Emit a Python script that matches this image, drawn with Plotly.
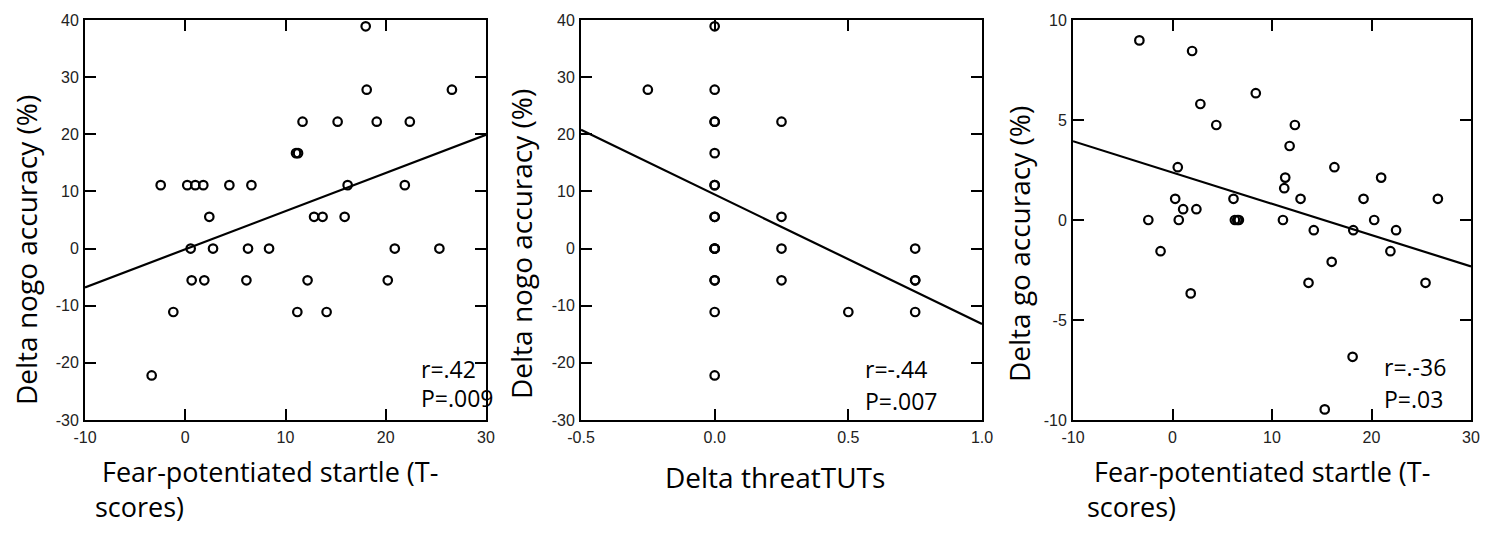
import plotly.graph_objects as go

# ---------------- data ----------------
# Panel 1: fear-potentiated startle vs delta nogo accuracy
fps_x1 = [18.0, 18.1, 26.6, 11.7, 15.2, 19.1, 22.4, 11.05, 11.25,
          -2.45, 0.2, 1.0, 1.8, 4.4, 6.6, 16.2, 21.9,
          2.4, 12.85, 13.7, 15.9,
          0.54, 2.77, 6.26, 8.36, 20.9, 25.35,
          0.64, 1.9, 6.1, 12.2, 20.2,
          -1.19, 11.18, 14.1,
          -3.35]
nogo_y1 = [38.9, 27.8, 27.8, 22.2, 22.2, 22.2, 22.2, 16.7, 16.7,
           11.1, 11.1, 11.1, 11.1, 11.1, 11.1, 11.1, 11.1,
           5.56, 5.56, 5.56, 5.56,
           0, 0, 0, 0, 0, 0,
           -5.56, -5.56, -5.56, -5.56, -5.56,
           -11.1, -11.1, -11.1,
           -22.2]
fit1_x = [-10, 30]
fit1_y = [-6.8, 19.9]

# Panel 2: delta threatTUTs vs delta nogo accuracy
tut_x2 = [0, 0, 0, 0, 0, 0, 0, 0, 0, 0, 0, 0, 0, 0, 0, 0,
          -0.25,
          0.25, 0.25, 0.25, 0.25,
          0.5,
          0.75, 0.75, 0.75, 0.75]
nogo_y2 = [38.9, 27.8, 22.2, 22.2, 16.7, 11.1, 11.1, 5.56, 5.56, 0, 0, 0,
           -5.56, -5.56, -11.1, -22.2,
           27.8,
           22.2, 5.56, 0, -5.56,
           -11.1,
           0, -5.56, -5.56, -11.1]
fit2_x = [-0.5, 1.0]
fit2_y = [20.8, -13.2]

# Panel 3: fear-potentiated startle vs delta go accuracy
fps_x3 = [-3.33, 1.97, 8.37, 2.8, 4.4, 12.3, 11.77, 0.53, 16.27, 11.33,
          20.97, 11.23, 0.27, 6.13, 12.87, 19.2, 26.67, 1.07, 2.4, -2.43,
          0.63, 6.27, 6.5, 6.67, 11.1, 20.27, 14.2, 18.17, 22.47, -1.2,
          21.9, 16.0, 13.67, 25.43, 1.83, 18.1, 15.3]
go_y3 = [8.98, 8.45, 6.34, 5.8, 4.75, 4.75, 3.7, 2.64, 2.64, 2.12,
         2.12, 1.59, 1.06, 1.06, 1.06, 1.06, 1.06, 0.54, 0.54, 0,
         0, 0, 0, 0, 0, 0, -0.51, -0.51, -0.51, -1.56,
         -1.56, -2.09, -3.14, -3.14, -3.67, -6.84, -9.47]
fit3_x = [-10, 30]
fit3_y = [3.94, -2.32]

# tick values and labels
fps_ticks = [-10, 0, 10, 20, 30]
fps_labels = ["-10", "0", "10", "20", "30"]
tut_ticks = [-0.5, 0.0, 0.5, 1.0]
tut_labels = ["-0.5", "0.0", "0.5", "1.0"]
nogo_ticks = [-30, -20, -10, 0, 10, 20, 30, 40]
nogo_labels = ["-30", "-20", "-10", "0", "10", "20", "30", "40"]
go_ticks = [-10, -5, 0, 5, 10]
go_labels = ["-10", "-5", "0", "5", "10"]

y_titles = ["Delta nogo accuracy (%)", "Delta nogo accuracy (%)", "Delta go accuracy (%)"]
fps_title = "\u00a0Fear-potentiated startle (T-<br>scores)"
tut_title = "Delta threatTUTs"
stats = [("r=.42", "P=.009"), ("r=-.44", "P=.007"), ("r=.-36", "P=.03")]

# ---------------- figure ----------------
OFF = 8  # page body margin
W, H = 1488 - 2 * OFF, 535 - 2 * OFF
fig = go.Figure()


def px(x):
    return (x - OFF) / W


def py(y):
    return 1 - (y - OFF) / H


panels = [
    (fps_x1, nogo_y1, fit1_x, fit1_y),
    (tut_x2, nogo_y2, fit2_x, fit2_y),
    (fps_x3, go_y3, fit3_x, fit3_y),
]
for i, (sx, sy, fx, fy) in enumerate(panels):
    xa = "x" if i == 0 else f"x{i+1}"
    ya = "y" if i == 0 else f"y{i+1}"
    fig.add_trace(go.Scatter(x=fx, y=fy, mode="lines", xaxis=xa, yaxis=ya,
                             line=dict(color="black", width=2.2), showlegend=False))
    fig.add_trace(go.Scatter(x=sx, y=sy, mode="markers", xaxis=xa, yaxis=ya,
                             marker=dict(symbol="circle-open", size=8.5, color="black",
                                         line=dict(width=2.2, color="black")),
                             showlegend=False))

x_domains = [[px(85), px(486)], [px(581), px(982)], [px(1073), px(1471)]]
y_dom = [py(420), py(20)]
x_ranges = [[-10, 30], [-0.5, 1.0], [-10, 30]]
x_tv = [fps_ticks, tut_ticks, fps_ticks]
x_tt = [fps_labels, tut_labels, fps_labels]
y_ranges = [[-30, 40], [-30, 40], [-10, 10]]
y_tv = [nogo_ticks, nogo_ticks, go_ticks]
y_tt = [nogo_labels, nogo_labels, go_labels]

tickfont = dict(family="Liberation Sans, Arial, sans-serif", size=16, color="#222")
common = dict(showline=True, linecolor="black", linewidth=2, mirror="ticks",
              ticks="inside", ticklen=11, tickwidth=2, tickcolor="black",
              showgrid=False, zeroline=False, tickfont=tickfont, automargin=False)

layout = {}
for i in range(3):
    xk = "xaxis" if i == 0 else f"xaxis{i+1}"
    yk = "yaxis" if i == 0 else f"yaxis{i+1}"
    ya = "y" if i == 0 else f"y{i+1}"
    xa = "x" if i == 0 else f"x{i+1}"
    layout[xk] = dict(domain=x_domains[i], range=x_ranges[i], tickmode="array",
                      tickvals=x_tv[i], ticktext=x_tt[i], anchor=ya,
                      ticklabelstandoff=2, **common)
    layout[yk] = dict(domain=y_dom, range=y_ranges[i], tickmode="array",
                      tickvals=y_tv[i], ticktext=y_tt[i], anchor=xa,
                      ticklabelstandoff=1, **common)

fig.update_layout(**layout)

title_font = dict(family="Open Sans, Lato, sans-serif", size=28, color="black")
xt_font = dict(family="Open Sans, Lato, sans-serif", size=27, color="black")
stat_font = dict(family="Open Sans, Lato, sans-serif", size=23, color="black")

ann = []
# y-axis titles
for (cx, cy), t in zip([(26, 250), (521, 244), (1019, 244)], y_titles):
    ann.append(dict(text=t, x=px(cx), y=py(cy), xref="paper", yref="paper",
                    textangle=-90, showarrow=False, xanchor="center", yanchor="middle",
                    font=title_font))
# x-axis titles
for lx in (93, 1085):
    ann.append(dict(text=fps_title, x=px(lx), y=py(489), xref="paper", yref="paper",
                    showarrow=False, xanchor="left", yanchor="middle", align="left",
                    font=xt_font))
ann.append(dict(text=tut_title, x=px(775), y=py(477), xref="paper",
                yref="paper", showarrow=False, xanchor="center", yanchor="middle", font=title_font))
# statistics
for (lx, r_y, p_y), (rt, pt) in zip([(419, 369, 398), (863, 369, 401), (1382, 367, 399)], stats):
    ann.append(dict(text=rt, x=px(lx), y=py(r_y), xref="paper", yref="paper", showarrow=False,
                    xanchor="left", yanchor="middle", font=stat_font))
    ann.append(dict(text=pt, x=px(lx), y=py(p_y), xref="paper", yref="paper", showarrow=False,
                    xanchor="left", yanchor="middle", font=stat_font))

fig.update_layout(width=W, height=H, margin=dict(l=0, r=0, t=0, b=0),
                  paper_bgcolor="white", plot_bgcolor="white", annotations=ann,
                  showlegend=False)

fig.write_html("out.html")
